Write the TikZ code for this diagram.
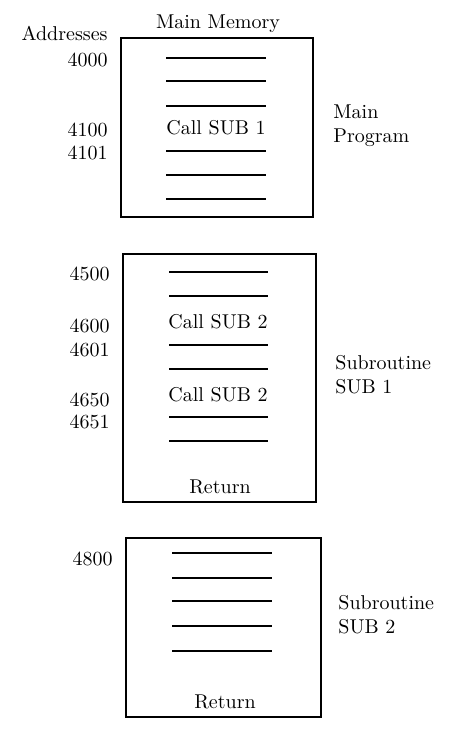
\documentclass[tikz,border=0pt]{standalone}
\usepackage{tikz}

\begin{document}
\begin{tikzpicture}[x=0.5pt,y=-0.5pt,
    addr/.style={anchor=east,inner sep=0pt},
    side/.style={anchor=west,align=left,inner sep=0pt},
    word/.style={line width=0.6pt}]

        \useasboundingbox (0,0) rectangle (450,729);

        %headings
        \node[addr] (addresses) at (108,33) {Addresses};
        \node[inner sep=0pt] (mainmem) at (218,24) {Main Memory};

        %main program
        \draw[word] (121,38) rectangle (313,217);
        \foreach \y in {58,81,106,151,175,199}
            \draw[word] (166,\y) -- (266,\y);
        \node[inner sep=0pt] (callA) at (216,128) {Call SUB 1};
        \node[addr] (a4000) at (108,60) {4000};
        \node[addr] (a4100) at (108,130) {4100};
        \node[addr] (a4101) at (108,153) {4101};
        \node[side] (mainprog) at (333,126) {Main\\Program};

        %subroutine 1
        \draw[word] (123,254) rectangle (316,502);
        \foreach \y in {272,296,345,369,417,441}
            \draw[word] (169,\y) -- (268,\y);
        \node[inner sep=0pt] (callB) at (218,322) {Call SUB 2};
        \node[inner sep=0pt] (callC) at (218,395) {Call SUB 2};
        \node[inner sep=0pt] (retA) at (220,487) {Return};
        \node[addr] (a4500) at (110,274) {4500};
        \node[addr] (a4600) at (110,326) {4600};
        \node[addr] (a4601) at (110,350) {4601};
        \node[addr] (a4650) at (110,400) {4650};
        \node[addr] (a4651) at (110,422) {4651};
        \node[side] (subA) at (335,375) {Subroutine\\SUB 1};

        %subroutine 2
        \draw[word] (126,538) rectangle (321,717);
        \foreach \y in {553,578,601,626,651}
            \draw[word] (172,\y) -- (272,\y);
        \node[inner sep=0pt] (retB) at (225,702) {Return};
        \node[addr] (a4800) at (113,559) {4800};
        \node[side] (subB) at (338,615) {Subroutine\\SUB 2};

\end{tikzpicture}
\end{document}
